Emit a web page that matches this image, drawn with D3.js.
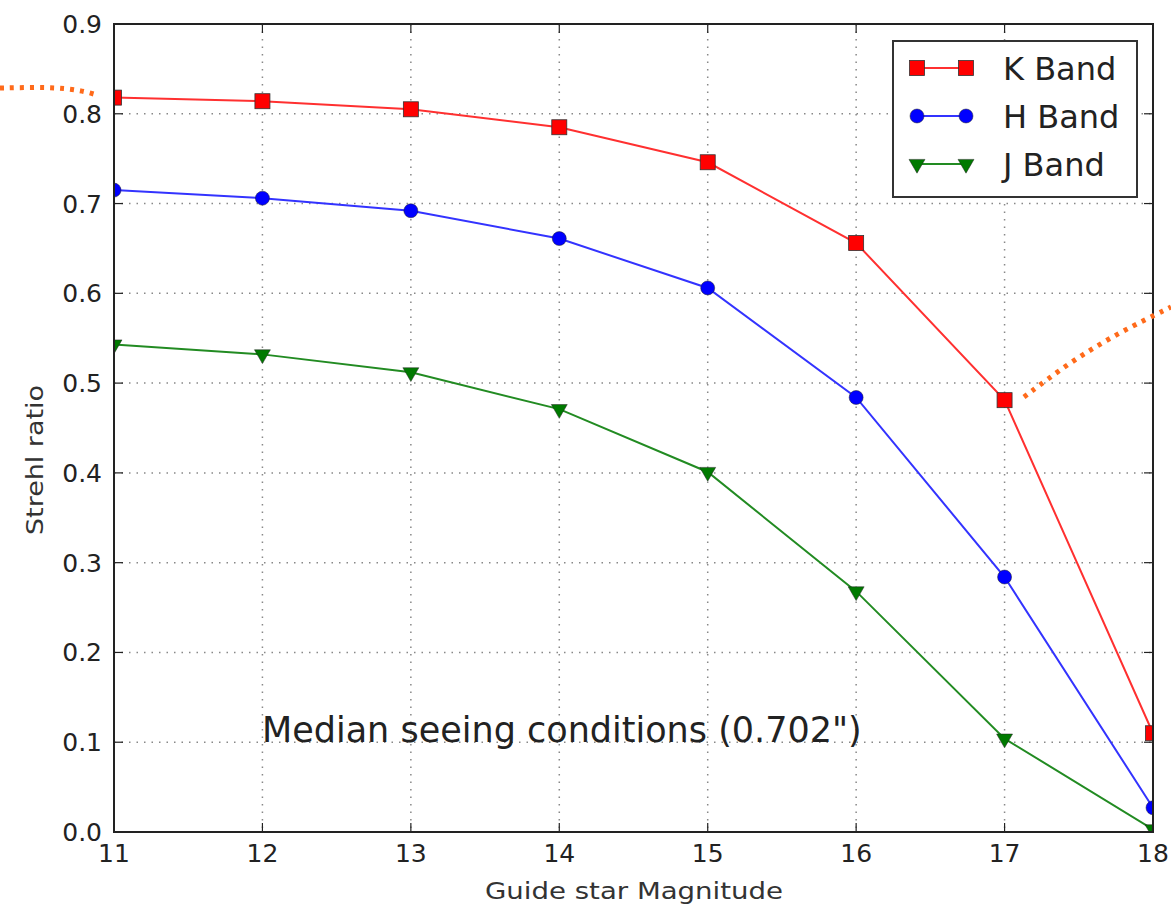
<!DOCTYPE html>
<html><head><meta charset="utf-8">
<script src="https://cdn.jsdelivr.net/npm/d3@7"></script>
<style>body{margin:0;background:#fff}svg{font-family:"DejaVu Sans",sans-serif}</style>
</head><body>
<svg id="c" width="1171" height="908"></svg>
<script>
const magnitudes = [11, 12, 13, 14, 15, 16, 17, 18];
const kBand = [0.818, 0.814, 0.805, 0.785, 0.746, 0.656, 0.481, 0.110];
const hBand = [0.715, 0.706, 0.692, 0.661, 0.606, 0.484, 0.284, 0.027];
const jBand = [0.543, 0.532, 0.512, 0.471, 0.401, 0.268, 0.104, 0.003];
const seriesNames = ["K Band", "H Band", "J Band"];
const xTicks = [11, 12, 13, 14, 15, 16, 17, 18];
const yTicks = [0.0, 0.1, 0.2, 0.3, 0.4, 0.5, 0.6, 0.7, 0.8, 0.9];

const svg = d3.select("#c");
const L = 114, R = 1153, T = 24, B = 832;
const x = d3.scaleLinear().domain([11, 18]).range([L, R]);
const y = d3.scaleLinear().domain([0, 0.9]).range([B, T]);

svg.append("defs").append("clipPath").attr("id", "clip")
  .append("rect").attr("x", L).attr("y", T).attr("width", R - L).attr("height", B - T);

// grid
const g = svg.append("g");
g.selectAll(".vg").data(xTicks).join("line")
  .attr("x1", d => x(d)).attr("x2", d => x(d)).attr("y1", T).attr("y2", B)
  .attr("stroke", "#888").attr("stroke-width", 1.5).attr("stroke-dasharray", "1.5,6");
g.selectAll(".hg").data(yTicks).join("line")
  .attr("y1", d => y(d)).attr("y2", d => y(d)).attr("x1", L).attr("x2", R)
  .attr("stroke", "#888").attr("stroke-width", 1.5).attr("stroke-dasharray", "1.5,6");

// ticks (inward, all sides)
const tk = svg.append("g").attr("stroke", "#222").attr("stroke-width", 1.2);
xTicks.forEach(t => {
  tk.append("line").attr("x1", x(t)).attr("x2", x(t)).attr("y1", B).attr("y2", B - 9);
  tk.append("line").attr("x1", x(t)).attr("x2", x(t)).attr("y1", T).attr("y2", T + 9);
});
yTicks.forEach(t => {
  tk.append("line").attr("y1", y(t)).attr("y2", y(t)).attr("x1", L).attr("x2", L + 9);
  tk.append("line").attr("y1", y(t)).attr("y2", y(t)).attr("x1", R).attr("x2", R - 9);
});

// tick labels
svg.selectAll(".xl").data(xTicks).join("text")
  .attr("x", d => x(d)).attr("y", 862).attr("text-anchor", "middle")
  .attr("font-size", 25).attr("fill", "#222").text(d => d);
svg.selectAll(".yl").data(yTicks).join("text")
  .attr("x", 102).attr("y", d => y(d) + 9).attr("text-anchor", "end")
  .attr("font-size", 25).attr("fill", "#222").text(d => d.toFixed(1));

// axis labels
svg.append("text").attr("x", 634).attr("y", 899).attr("text-anchor", "middle")
  .attr("font-size", 23).attr("textLength", 298).attr("lengthAdjust", "spacingAndGlyphs")
  .attr("fill", "#333").text("Guide star Magnitude");
svg.append("text").attr("transform", `translate(43,460) rotate(-90)`)
  .attr("text-anchor", "middle").attr("font-size", 23).attr("textLength", 150)
  .attr("lengthAdjust", "spacingAndGlyphs").attr("fill", "#333").text("Strehl ratio");

// series
const colors = ["#ff0000", "#0000ff", "#007a00"];
const lineColors = ["#ff3030", "#3333ff", "#228b22"];
const data = [kBand, hBand, jBand];
const plot = svg.append("g").attr("clip-path", "url(#clip)");
const line = d3.line().x((d, i) => x(magnitudes[i])).y(d => y(d));
const tri = d3.symbol().type(d3.symbolTriangle).size(110);
function marker(sel, k, cx, cy) {
  if (k === 0) sel.append("rect").attr("x", cx - 7.5).attr("y", cy - 7.5).attr("width", 15).attr("height", 15)
    .attr("fill", colors[0]).attr("stroke", "#333").attr("stroke-width", 0.8);
  else if (k === 1) sel.append("circle").attr("cx", cx).attr("cy", cy).attr("r", 7)
    .attr("fill", colors[1]).attr("stroke", "#222").attr("stroke-width", 0.5);
  else sel.append("path").attr("d", tri).attr("transform", `translate(${cx},${cy}) rotate(180)`)
    .attr("fill", colors[2]).attr("stroke", "#222").attr("stroke-width", 0.5);
}
data.forEach((vals, k) => {
  plot.append("path").datum(vals).attr("d", line).attr("fill", "none")
    .attr("stroke", lineColors[k]).attr("stroke-width", 2);
  vals.forEach((v, i) => marker(plot, k, x(magnitudes[i]), y(v)));
});

// frame
svg.append("rect").attr("x", L).attr("y", T).attr("width", R - L).attr("height", B - T)
  .attr("fill", "none").attr("stroke", "#222").attr("stroke-width", 2);

// annotation text
svg.append("text").attr("x", 262).attr("y", 742).attr("font-size", 35).attr("fill", "#222")
  .text("Median seeing conditions (0.702\")");

// legend
const lg = svg.append("g");
lg.append("rect").attr("x", 893).attr("y", 41).attr("width", 244).attr("height", 156)
  .attr("fill", "#fff").attr("stroke", "#333").attr("stroke-width", 2);
seriesNames.forEach((name, k) => {
  const ly = 68 + k * 48;
  lg.append("line").attr("x1", 917).attr("x2", 966).attr("y1", ly).attr("y2", ly)
    .attr("stroke", lineColors[k]).attr("stroke-width", 2);
  marker(lg, k, 917, ly);
  marker(lg, k, 966, ly);
  lg.append("text").attr("x", 1003).attr("y", ly + 12).attr("font-size", 32).attr("fill", "#222").text(name);
});

// decorative orange dotted callout curves
const deco = svg.append("g").attr("fill", "none").attr("stroke", "#ff6a1a").attr("stroke-width", 5)
  .attr("stroke-dasharray", "4,6");
deco.append("path").attr("d", d3.line().curve(d3.curveBasis)([[0, 88], [50, 87], [80, 90], [97, 95]]));
deco.append("path").attr("d", d3.line().curve(d3.curveBasis)([[1024, 397], [1070, 362], [1120, 332], [1171, 307]]));
</script>
</body></html>
